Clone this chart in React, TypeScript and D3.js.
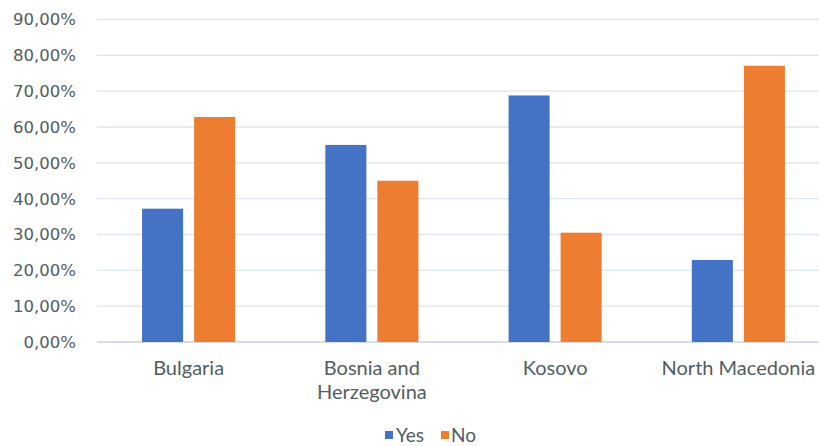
import React from "react";
import * as d3 from "d3";

const categories = ["Bulgaria", "Bosnia and Herzegovina", "Kosovo", "North Macedonia"];
const categoryLines = [["Bulgaria"], ["Bosnia and", "Herzegovina"], ["Kosovo"], ["North Macedonia"]];
const seriesNames = ["Yes", "No"];
const yesValues = [37.2, 55.0, 68.8, 22.9];
const noValues = [62.8, 45.0, 30.5, 77.1];
const yTicks = [0, 10, 20, 30, 40, 50, 60, 70, 80, 90];
const colors = ["#4472C4", "#ED7D31"];

export default function App() {
  const W = 819, H = 446;
  const left = 97, right = 830, top = 19.5, bottom = 342;
  const x = d3.scaleBand<string>().domain(categories).range([left, right]).padding(0);
  const y = d3.scaleLinear().domain([0, 90]).range([bottom, top]);
  const bw = x.bandwidth();
  const barW = bw * 0.224;
  const gap = bw * 0.06;
  const sub = d3.scaleOrdinal<string, number>().domain(seriesNames).range([-(barW + gap / 2), gap / 2]);
  const series = [yesValues, noValues];
  const fmt = (v: number) => v.toFixed(2).replace(".", ",") + "%";
  const textColor = "#525c61";
  return (
    <svg width={W} height={H} style={{ position: "absolute", left: 0, top: 0, background: "#fff" }}>
      {yTicks.map((t) => (
        <g key={t}>
          <line x1={left} x2={right} y1={y(t)} y2={y(t)} stroke={t === 0 ? "#c9d3dc" : "#dde5ec"} strokeWidth={1.3} />
          <text x={76} y={y(t)} dy="0.36em" textAnchor="end" fontFamily="DejaVu Sans" fontSize={16.5} fill={textColor}>
            {fmt(t)}
          </text>
        </g>
      ))}
      {series.map((vals, si) =>
        vals.map((v, i) => {
          const cx = (x(categories[i]) as number) + bw / 2;
          return (
            <rect
              key={si + "-" + i}
              x={cx + sub(seriesNames[si])}
              y={y(v)}
              width={barW}
              height={y(0) - y(v)}
              fill={colors[si]}
            />
          );
        })
      )}
      {categoryLines.map((lines, i) => {
        const cx = (x(categories[i]) as number) + bw / 2;
        return (
          <text key={i} textAnchor="middle" fontFamily="Lato" fontSize={20} fill={textColor}>
            {lines.map((l, j) => (
              <tspan key={j} x={cx} y={368 + j * 24} dy="0.35em">
                {l}
              </tspan>
            ))}
          </text>
        );
      })}
      <g fontFamily="Lato" fontSize={19} fill={textColor}>
        <rect x={385} y={431} width={8} height={8} fill={colors[0]} />
        <text x={396} y={435} dy="0.35em">{seriesNames[0]}</text>
        <rect x={441} y={431} width={8} height={8} fill={colors[1]} />
        <text x={451} y={435} dy="0.35em">{seriesNames[1]}</text>
      </g>
    </svg>
  );
}
